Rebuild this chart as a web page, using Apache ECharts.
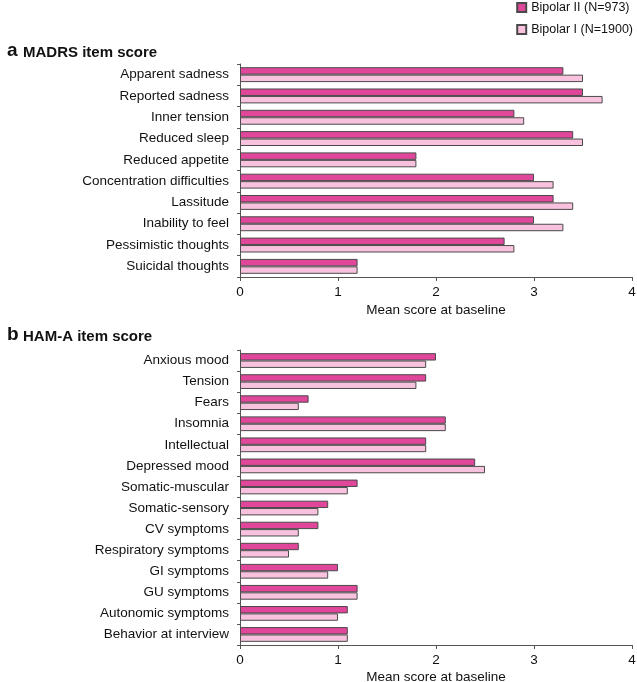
<!DOCTYPE html>
<html>
<head>
<meta charset="utf-8">
<script src="https://cdn.jsdelivr.net/npm/echarts@6/dist/echarts.min.js"></script>
<style>
html,body{margin:0;padding:0;background:#fff;}
#main{width:637px;height:682px;}
</style>
</head>
<body>
<div id="main"></div>
<script>
var madrsItems = ['Apparent sadness','Reported sadness','Inner tension','Reduced sleep','Reduced appetite','Concentration difficulties','Lassitude','Inability to feel','Pessimistic thoughts','Suicidal thoughts'];
var madrsBipolar2 = [3.3, 3.5, 2.8, 3.4, 1.8, 3.0, 3.2, 3.0, 2.7, 1.2];
var madrsBipolar1 = [3.5, 3.7, 2.9, 3.5, 1.8, 3.2, 3.4, 3.3, 2.8, 1.2];

var hamaItems = ['Anxious mood','Tension','Fears','Insomnia','Intellectual','Depressed mood','Somatic-muscular','Somatic-sensory','CV symptoms','Respiratory symptoms','GI symptoms','GU symptoms','Autonomic symptoms','Behavior at interview'];
var hamaBipolar2 = [2.0, 1.9, 0.7, 2.1, 1.9, 2.4, 1.2, 0.9, 0.8, 0.6, 1.0, 1.2, 1.1, 1.1];
var hamaBipolar1 = [1.9, 1.8, 0.6, 2.1, 1.9, 2.5, 1.1, 0.8, 0.6, 0.5, 0.9, 1.2, 1.0, 1.1];

var xTicks = [0, 1, 2, 3, 4];
var seriesNames = ['Bipolar II (N=973)', 'Bipolar I (N=1900)'];

var font = 'Liberation Sans, Arial, sans-serif';
var dark = '#e0479a', light = '#f8c2de', edge = '#4a4a4a';

var myChart = echarts.init(document.getElementById('main'));

function xAxisOf(idx, gap){
	return {
		type:'value', gridIndex:idx, min:0, max:4, interval:1,
		name:'Mean score at baseline', nameLocation:'middle', nameGap:gap,
		nameTextStyle:{color:'#111', fontSize:13.5, fontFamily:font},
		axisLine:{show:true, lineStyle:{color:'#555', width:1}},
		axisTick:{show:true, length:4, lineStyle:{color:'#555'}},
		axisLabel:{color:'#111', fontSize:13.5, fontFamily:font, margin:8,
			formatter:function(v){ return xTicks.indexOf(v) >= 0 ? String(v) : ''; }},
		splitLine:{show:false}
	};
}
function yAxisOf(idx, cats){
	return {
		type:'category', gridIndex:idx, data:cats, inverse:true,
		axisLine:{show:true, lineStyle:{color:'#555', width:1}},
		axisTick:{show:true, length:3, lineStyle:{color:'#555'}},
		axisLabel:{color:'#111', fontSize:13.5, fontFamily:font, margin:11}
	};
}
function barOf(name, data, idx, color){
	return {
		name:name, type:'bar', xAxisIndex:idx, yAxisIndex:idx, data:data,
		barGap:'0%', barCategoryGap:'30%',
		itemStyle:{color:color, borderColor:edge, borderWidth:1},
		emphasis:{disabled:true}
	};
}

var option = {
	animation:false,
	textStyle:{fontFamily:font},
	legend:{
		orient:'vertical', right:4, top:1, itemGap:9, padding:0,
		itemWidth:9, itemHeight:9, icon:'rect',
		textStyle:{color:'#111', fontSize:12.5, fontFamily:font},
		data:seriesNames
	},
	title:[
		{text:'a', left:2, top:36, textStyle:{fontSize:19, fontWeight:'bold', color:'#111', fontFamily:font}},
		{text:'MADRS item score', left:18, top:40, textStyle:{fontSize:15, fontWeight:'bold', color:'#111', fontFamily:font}},
		{text:'b', left:2, top:320, textStyle:{fontSize:19, fontWeight:'bold', color:'#111', fontFamily:font}},
		{text:'HAM-A item score', left:18, top:324, textStyle:{fontSize:15, fontWeight:'bold', color:'#111', fontFamily:font}}
	],
	grid:[
		{left:240, top:64, width:392, height:213, outerBoundsMode:'none'},
		{left:240, top:350, width:392, height:295, outerBoundsMode:'none'}
	],
	xAxis:[xAxisOf(0, 26), xAxisOf(1, 25)],
	yAxis:[yAxisOf(0, madrsItems), yAxisOf(1, hamaItems)],
	series:[
		barOf(seriesNames[0], madrsBipolar2, 0, dark),
		barOf(seriesNames[1], madrsBipolar1, 0, light),
		barOf(seriesNames[0], hamaBipolar2, 1, dark),
		barOf(seriesNames[1], hamaBipolar1, 1, light)
	]
};
myChart.setOption(option);
</script>
</body>
</html>
